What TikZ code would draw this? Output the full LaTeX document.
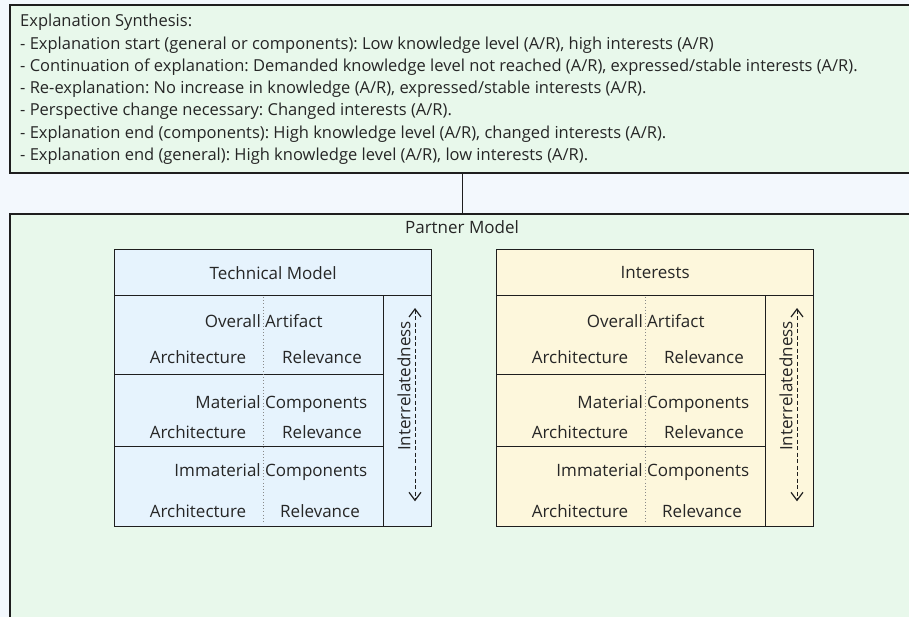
\documentclass[tikz,border=0pt]{standalone}
\usepackage{fontspec}
\setmainfont{Open Sans}
\usetikzlibrary{arrows.meta}
\frenchspacing
\definecolor{bgc}{HTML}{F3F8FD}
\definecolor{greenf}{HTML}{E8F8EB}
\definecolor{bluef}{HTML}{E6F3FD}
\definecolor{yellowf}{HTML}{FDF7DC}
\definecolor{edge}{HTML}{1E1E1E}
\definecolor{txt}{HTML}{262626}
\definecolor{dotc}{HTML}{8A8A8A}
\tikzset{
  frame/.style={draw=edge, line width=1.6pt, rectangle, inner sep=0pt, anchor=north west},
  cell/.style={draw=edge, line width=1.3pt, rectangle, inner sep=0pt, anchor=north west, text=txt, font=\fontsize{17}{20}\selectfont},
  lbl/.style={font=\fontsize{17}{20}\selectfont, text=txt, inner sep=0pt, anchor=base},
  conn/.style={draw=edge, line width=1.3pt},
  divider/.style={draw=dotc, line width=0.9pt, dash pattern=on 1pt off 2.2pt},
  iarrow/.style={draw=edge, line width=0.9pt, dash pattern=on 4pt off 2.5pt,
    {Straight Barb[length=8pt,width=12pt,line width=1.2pt]}-{Straight Barb[length=8pt,width=12pt,line width=1.2pt]}},
}
\newcommand\ModelBox[4]{%
  \node[cell, fill=#3, minimum width=317pt, minimum height=46pt] (#1-head) at (#2,249) {#4};
  \node[cell, fill=#3, minimum width=269pt, minimum height=79pt] (#1-r1) at (#2,295) {};
  \node[cell, fill=#3, minimum width=269pt, minimum height=72pt] (#1-r2) at (#2,374) {};
  \node[cell, fill=#3, minimum width=269pt, minimum height=80pt] (#1-r3) at (#2,446) {};
  \node[cell, fill=#3, minimum width=48pt, minimum height=231pt] (#1-side) at (#2+269,295) {};
  \draw[divider] ([xshift=149pt,yshift=-2pt]#1-r1.north west) -- ([xshift=149pt,yshift=4pt]#1-r3.south west);
  \node[lbl, anchor=base east] (#1-t1a) at (#2+147,327) {Overall};
  \node[lbl, anchor=base west] (#1-t1b) at (#2+151,327) {Artifact};
  \node[lbl] (#1-a1) at (#2+84,363) {Architecture};
  \node[lbl] (#1-b1) at (#2+208,363) {Relevance};
  \node[lbl, anchor=base east] (#1-t2a) at (#2+147,408) {Material};
  \node[lbl, anchor=base west] (#1-t2b) at (#2+151,408) {Components};
  \node[lbl] (#1-a2) at (#2+84,438) {Architecture};
  \node[lbl] (#1-b2) at (#2+208,438) {Relevance};
  \node[lbl, anchor=base east] (#1-t3a) at (#2+147,476) {Immaterial};
  \node[lbl, anchor=base west] (#1-t3b) at (#2+151,476) {Components};
  \node[lbl] (#1-a3) at (#2+84,517) {Architecture};
  \node[lbl] (#1-b3) at (#2+206,517) {Relevance};
  \node[lbl, rotate=90, anchor=center] (#1-ir) at (#2+290,386) {Interrelatedness};
  \draw[iarrow] ([xshift=32pt,yshift=-13pt]#1-side.north west) -- ([xshift=32pt,yshift=26pt]#1-side.south west);
}
\begin{document}
\begin{tikzpicture}[x=1pt,y=-1pt]
  \fill[bgc] (0,0) rectangle (909,617);
  \useasboundingbox (0,0) rectangle (909,617);
  \clip (0,0) rectangle (909,617);
  \node[frame, fill=greenf, minimum width=906pt, minimum height=168pt] (synth) at (9,4) {};
  \node[anchor=north west, align=left, inner sep=0pt, text=txt,
        font=\fontsize{16.5}{22.3}\selectfont] (synthtext) at (20,14) {%
    Explanation Synthesis:\\
    - Explanation start (general or components): Low knowledge level (A/R), high interests (A/R)\\
    - Continuation of explanation: Demanded knowledge level not reached (A/R), expressed/stable interests (A/R).\\
    - Re-explanation: No increase in knowledge (A/R), expressed/stable interests (A/R).\\
    - Perspective change necessary: Changed interests (A/R).\\
    - Explanation end (components): High knowledge level (A/R), changed interests (A/R).\\
    - Explanation end (general): High knowledge level (A/R), low interests (A/R).};
  \node[frame, fill=greenf, minimum width=906pt, minimum height=420pt] (partner) at (9,213) {};
  \draw[conn] (synth.south) -- (partner.north);
  \node[lbl] (pmlabel) at (462,234) {Partner Model};
  \ModelBox{tm}{114}{bluef}{Technical Model}
  \ModelBox{in}{496}{yellowf}{Interests}
\end{tikzpicture}
\end{document}
